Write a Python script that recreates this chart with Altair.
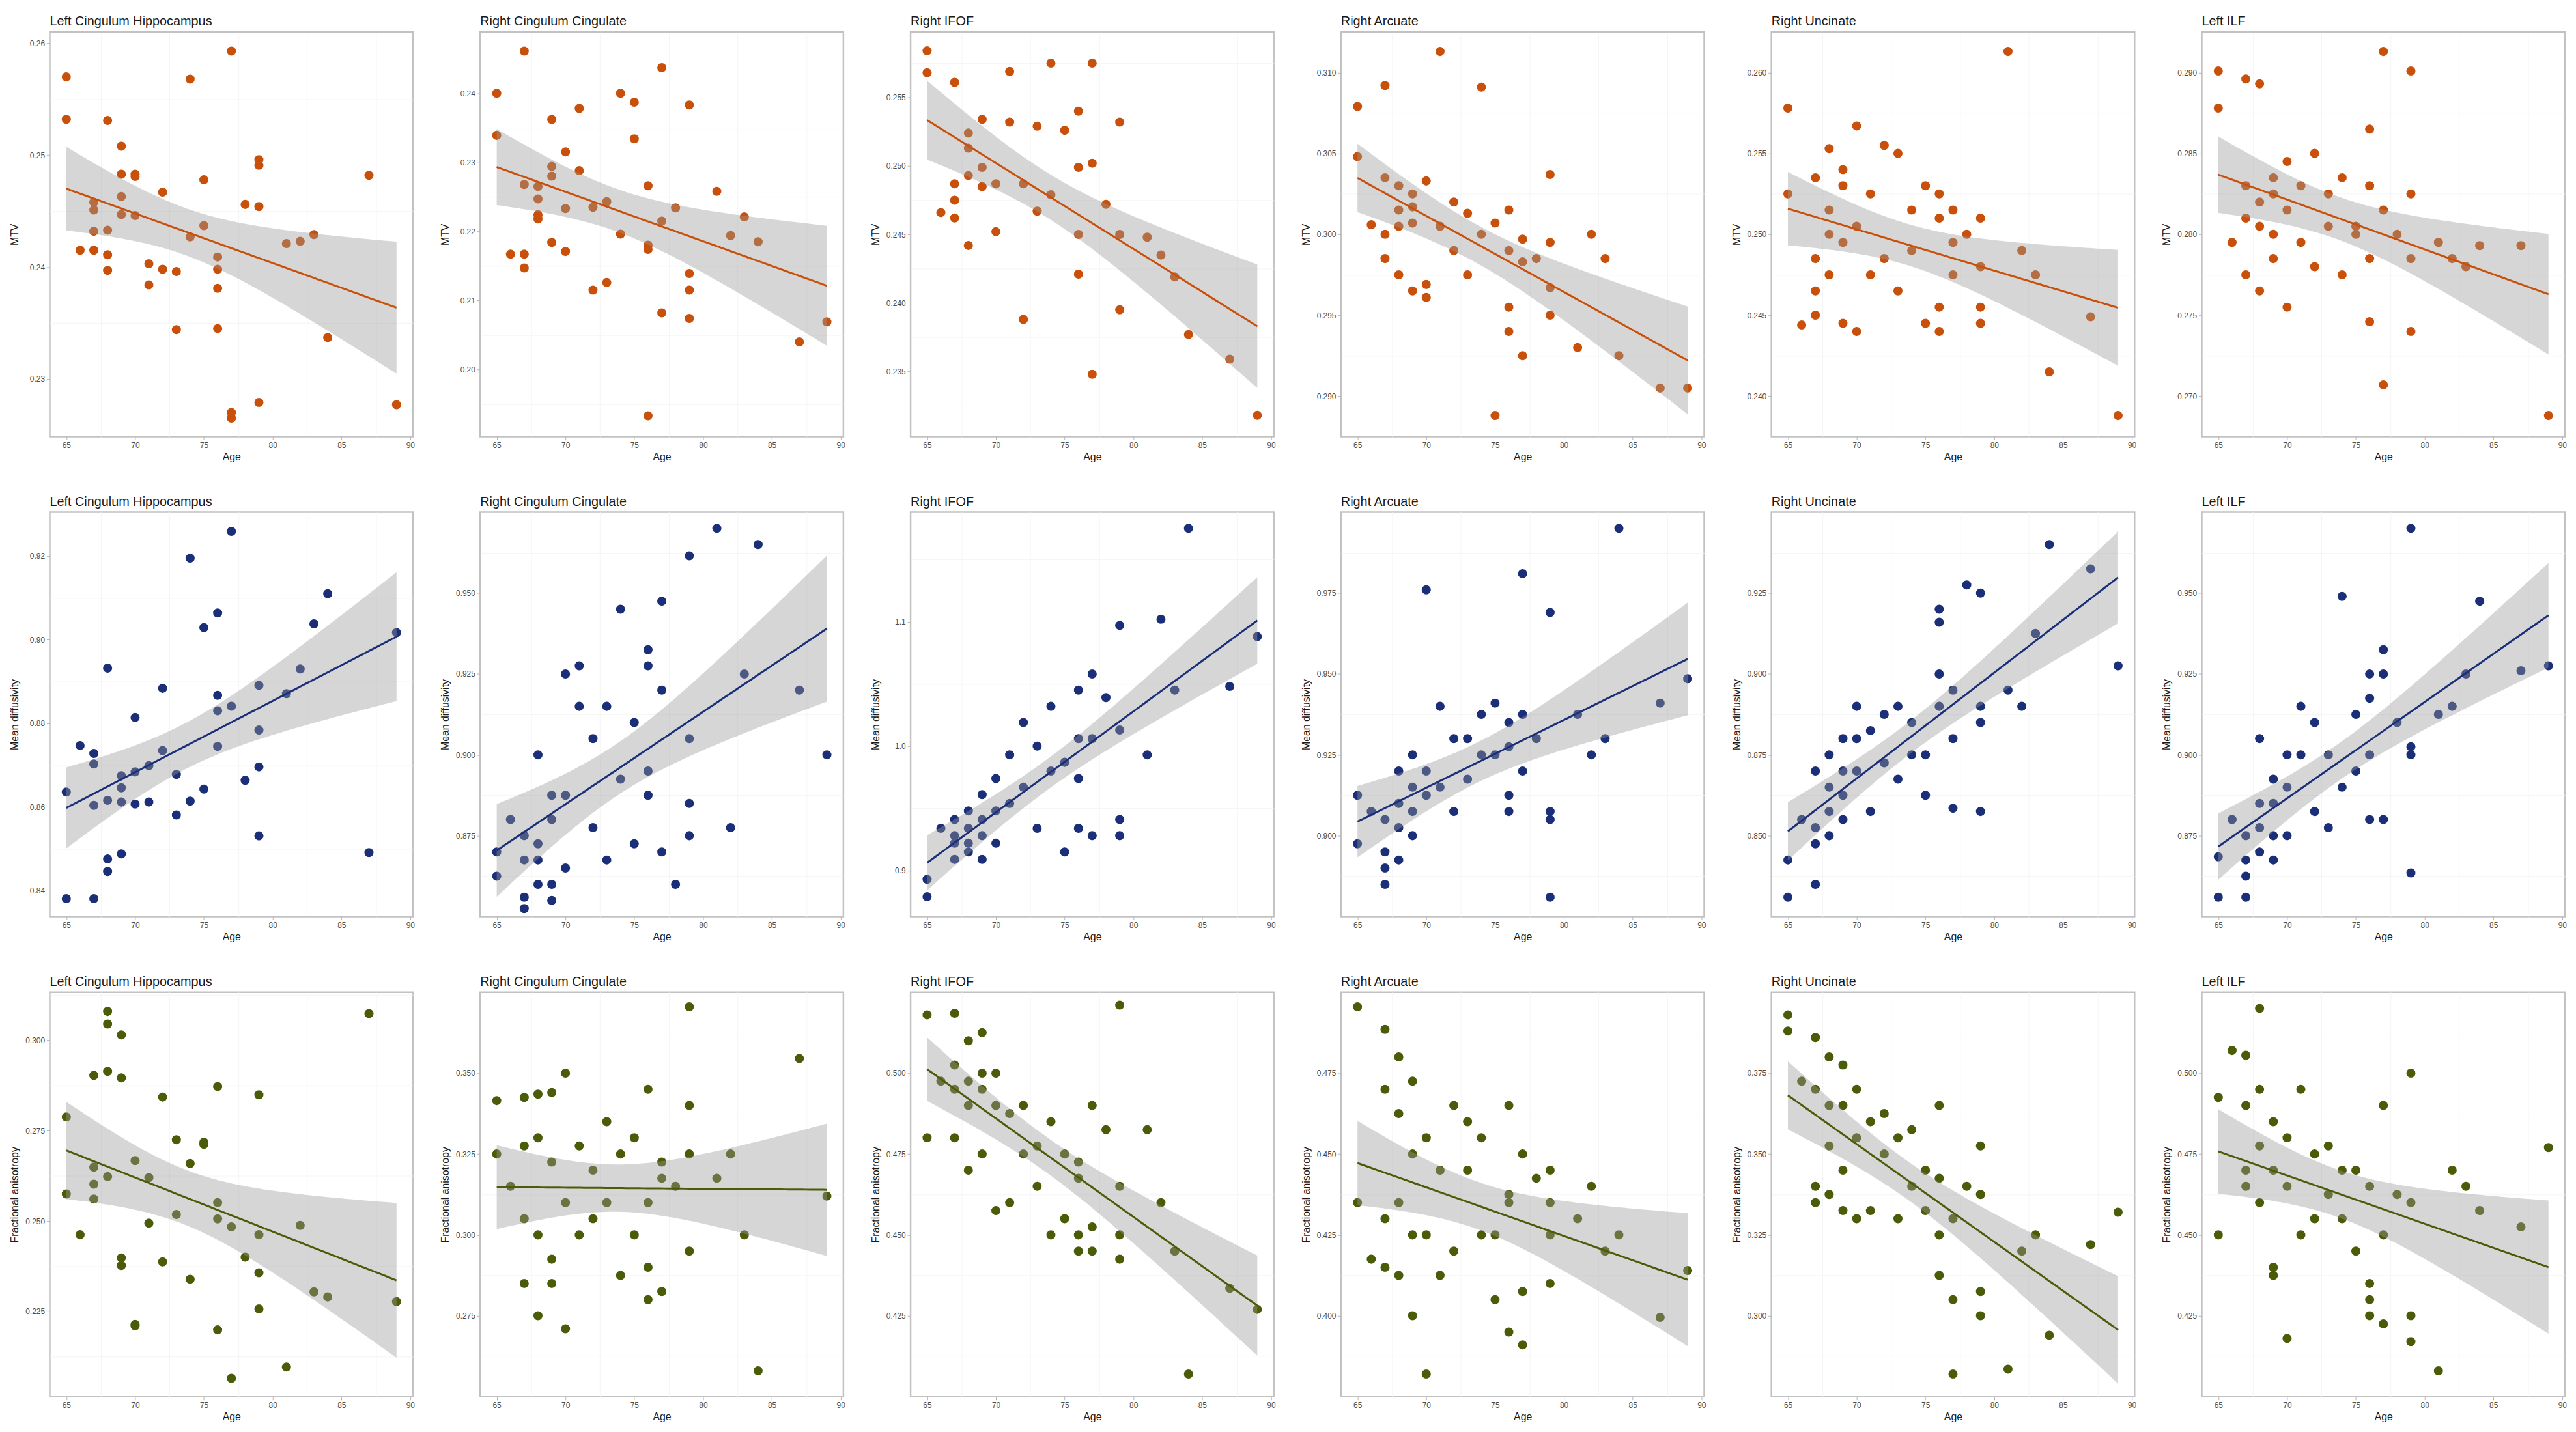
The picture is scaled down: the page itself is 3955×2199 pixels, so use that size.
import altair as alt
import numpy as np
import pandas as pd

# ---------------- data ----------------
AGES = [65, 65, 66, 67, 67, 67, 67, 68, 68, 68, 68, 69, 69, 69, 69, 70, 70, 70, 71, 71, 72, 72,
        73, 73, 74, 74, 75, 75, 76, 76, 76, 76, 77, 77, 77, 78, 79, 79, 79, 79, 81, 82, 83, 84, 87, 89]
AGES_MTV_RIFOF = [65, 65, 66, 67, 67, 67, 67, 68, 68, 68, 68, 69, 69, 69, 70, 70, 71, 71, 72, 72, 73, 73,
                  74, 74, 75, 76, 76, 76, 76, 77, 77, 77, 78, 79, 79, 79, 81, 82, 83, 84, 87, 89]
AGES_45 = [65, 65, 66, 67, 67, 67, 67, 68, 68, 68, 68, 69, 69, 69, 69, 70, 70, 70, 71, 71, 72, 72,
           73, 73, 74, 74, 75, 75, 76, 76, 76, 76, 77, 77, 78, 79, 79, 79, 79, 81, 82, 83, 84, 87, 89]

TRACTS = ["Left Cingulum Hippocampus", "Right Cingulum Cingulate", "Right IFOF",
          "Right Arcuate", "Right Uncinate", "Left ILF"]
MEASURES = ["MTV", "Mean diffusivity", "Fractional anisotropy"]
COLORS = ["#C8500A", "#1A2F78", "#4B5C08"]

MTV_LCH = [0.2570, 0.2532, 0.2415, 0.2458, 0.2451, 0.2432, 0.2415, 0.2531, 0.2433, 0.2411, 0.2397,
           0.2508, 0.2483, 0.2463, 0.2447, 0.2483, 0.2481, 0.2446, 0.2403, 0.2384, 0.2467, 0.2398,
           0.2396, 0.2344, 0.2568, 0.2427, 0.2478, 0.2437, 0.2409, 0.2398, 0.2381, 0.2345,
           0.2593, 0.2270, 0.2265, 0.2456, 0.2496, 0.2491, 0.2454, 0.2279, 0.2421, 0.2423, 0.2429,
           0.2337, 0.2482, 0.2277]
MTV_RCC = [0.2400, 0.2339, 0.2167, 0.2461, 0.2268, 0.2167, 0.2147, 0.2265, 0.2247, 0.2224, 0.2218,
           0.2362, 0.2294, 0.2280, 0.2184, 0.2315, 0.2233, 0.2171, 0.2378, 0.2288, 0.2235, 0.2115,
           0.2243, 0.2126, 0.2400, 0.2196, 0.2387, 0.2334, 0.2266, 0.2180, 0.2174, 0.1933,
           0.2437, 0.2215, 0.2082, 0.2234, 0.2383, 0.2139, 0.2115, 0.2074, 0.2258, 0.2194, 0.2221,
           0.2185, 0.2040, 0.2069]
MTV_RIFOF = [0.2584, 0.2568, 0.2466, 0.2561, 0.2487, 0.2475, 0.2462, 0.2524, 0.2513, 0.2493, 0.2442,
             0.2534, 0.2499, 0.2485, 0.2487, 0.2452, 0.2569, 0.2532, 0.2487, 0.2388, 0.2529, 0.2467,
             0.2575, 0.2479, 0.2526, 0.2540, 0.2499, 0.2450, 0.2421, 0.2575, 0.2502, 0.2348,
             0.2472, 0.2532, 0.2450, 0.2395, 0.2448, 0.2435, 0.2419, 0.2377, 0.2359, 0.2318]
MTV_RARC = [0.3079, 0.3048, 0.3006, 0.3092, 0.3035, 0.3000, 0.2985, 0.3030, 0.3015, 0.3005, 0.2975,
            0.3025, 0.3017, 0.3007, 0.2965, 0.3033, 0.2969, 0.2961, 0.3113, 0.3005, 0.3020, 0.2990,
            0.3013, 0.2975, 0.3091, 0.3000, 0.3007, 0.2888, 0.3015, 0.2990, 0.2955, 0.2940,
            0.2997, 0.2983, 0.2925, 0.2985, 0.3037, 0.2995, 0.2967, 0.2950, 0.2930, 0.3000, 0.2985,
            0.2925, 0.2905, 0.2905]
MTV_RUNC = [0.2578, 0.2525, 0.2444, 0.2535, 0.2485, 0.2465, 0.2450, 0.2553, 0.2515, 0.2500, 0.2475,
            0.2540, 0.2530, 0.2495, 0.2445, 0.2567, 0.2505, 0.2440, 0.2525, 0.2475, 0.2555, 0.2485,
            0.2550, 0.2465, 0.2515, 0.2490, 0.2530, 0.2445, 0.2525, 0.2510, 0.2455, 0.2440,
            0.2515, 0.2495, 0.2475, 0.2500, 0.2510, 0.2480, 0.2455, 0.2445, 0.2613, 0.2490, 0.2475,
            0.2415, 0.2449, 0.2388]
MTV_LILF = [0.2901, 0.2878, 0.2795, 0.2896, 0.2830, 0.2810, 0.2775, 0.2893, 0.2820, 0.2805, 0.2765,
            0.2835, 0.2825, 0.2800, 0.2785, 0.2845, 0.2815, 0.2755, 0.2830, 0.2795, 0.2850, 0.2780,
            0.2825, 0.2805, 0.2835, 0.2775, 0.2805, 0.2800, 0.2865, 0.2830, 0.2785, 0.2746,
            0.2913, 0.2815, 0.2707, 0.2800, 0.2901, 0.2825, 0.2785, 0.2740, 0.2795, 0.2785, 0.2780,
            0.2793, 0.2793, 0.2688]

MD_LCH = [0.8636, 0.8381, 0.8747, 0.8728, 0.8703, 0.8604, 0.8381, 0.8932, 0.8616, 0.8476, 0.8446,
          0.8675, 0.8646, 0.8612, 0.8488, 0.8814, 0.8684, 0.8607, 0.8699, 0.8612, 0.8884, 0.8735,
          0.8678, 0.8581, 0.9195, 0.8614, 0.9029, 0.8643, 0.9064, 0.8867, 0.8830, 0.8745,
          0.9259, 0.8841, 0.8664, 0.8891, 0.8784, 0.8696, 0.8531, 0.8871, 0.8930, 0.9038, 0.9110,
          0.8491, 0.9017]
MD_RCC = [0.870, 0.8625, 0.880, 0.875, 0.8675, 0.856, 0.8525, 0.900, 0.8725, 0.8675, 0.860,
          0.8875, 0.880, 0.860, 0.855, 0.925, 0.8875, 0.865, 0.9275, 0.915, 0.905, 0.8775,
          0.915, 0.8675, 0.945, 0.8925, 0.910, 0.8725, 0.9325, 0.9275, 0.895, 0.8875,
          0.9475, 0.920, 0.870, 0.860, 0.9615, 0.905, 0.885, 0.875, 0.970, 0.8775, 0.925,
          0.965, 0.920, 0.900]
MD_RIFOF = [0.893, 0.879, 0.934, 0.941, 0.928, 0.922, 0.909, 0.948, 0.934, 0.922, 0.915,
            0.961, 0.941, 0.928, 0.909, 0.974, 0.948, 0.922, 0.993, 0.954, 1.019, 0.967,
            1.000, 0.934, 1.032, 0.980, 0.987, 0.915, 1.045, 1.006, 0.974, 0.934,
            1.058, 1.006, 0.928, 1.039, 1.097, 1.013, 0.941, 0.928, 0.993, 1.102, 1.045,
            1.175, 1.048, 1.088]
MD_RARC = [0.9125, 0.8975, 0.9075, 0.905, 0.895, 0.890, 0.885, 0.920, 0.910, 0.9025, 0.8925,
           0.925, 0.915, 0.9075, 0.900, 0.976, 0.920, 0.9125, 0.940, 0.915, 0.930, 0.9075,
           0.930, 0.9175, 0.9375, 0.925, 0.941, 0.925, 0.935, 0.9275, 0.9125, 0.9075,
           0.981, 0.9375, 0.920, 0.930, 0.969, 0.9075, 0.905, 0.881, 0.9375, 0.925, 0.930,
           0.995, 0.941, 0.9485]
MD_RUNC = [0.8425, 0.831, 0.855, 0.870, 0.8525, 0.8475, 0.835, 0.875, 0.865, 0.8575, 0.850,
           0.880, 0.870, 0.8625, 0.855, 0.890, 0.880, 0.870, 0.8825, 0.8575, 0.8875, 0.8725,
           0.890, 0.8675, 0.885, 0.875, 0.875, 0.8625, 0.920, 0.916, 0.900, 0.890,
           0.895, 0.880, 0.8585, 0.9275, 0.925, 0.890, 0.885, 0.8575, 0.895, 0.890, 0.9125,
           0.940, 0.9325, 0.9025]
MD_LILF = [0.8685, 0.856, 0.880, 0.875, 0.8675, 0.8625, 0.856, 0.905, 0.885, 0.8775, 0.870,
           0.8925, 0.885, 0.875, 0.8675, 0.900, 0.890, 0.875, 0.915, 0.900, 0.910, 0.8825,
           0.900, 0.8775, 0.949, 0.890, 0.9125, 0.895, 0.925, 0.9175, 0.900, 0.880,
           0.9325, 0.925, 0.880, 0.910, 0.970, 0.9025, 0.900, 0.8635, 0.9125, 0.915, 0.925,
           0.9475, 0.926, 0.9275]

FA_LCH = [0.2788, 0.2575, 0.2462, 0.2903, 0.2649, 0.2602, 0.2561, 0.3080, 0.3045, 0.2914, 0.2623,
          0.3015, 0.2896, 0.2398, 0.2377, 0.2667, 0.2214, 0.2210, 0.2620, 0.2494, 0.2843, 0.2387,
          0.2725, 0.2518, 0.2659, 0.2339, 0.2718, 0.2712, 0.2872, 0.2551, 0.2506, 0.2199,
          0.2484, 0.2065, 0.2400, 0.2849, 0.2462, 0.2357, 0.2257, 0.2096, 0.2488, 0.2304, 0.2290,
          0.3074, 0.2277]
FA_RCC = [0.3415, 0.325, 0.315, 0.3425, 0.3275, 0.305, 0.285, 0.3435, 0.330, 0.300, 0.275,
          0.344, 0.3225, 0.2925, 0.285, 0.350, 0.310, 0.271, 0.3275, 0.300, 0.320, 0.305,
          0.335, 0.310, 0.325, 0.2875, 0.330, 0.300, 0.345, 0.310, 0.290, 0.280,
          0.3225, 0.3175, 0.2825, 0.315, 0.3705, 0.340, 0.325, 0.295, 0.3175, 0.325, 0.300,
          0.258, 0.3545, 0.312]
FA_RIFOF = [0.518, 0.480, 0.4975, 0.5185, 0.5025, 0.495, 0.480, 0.510, 0.4975, 0.490, 0.470,
            0.5125, 0.500, 0.495, 0.475, 0.500, 0.490, 0.4575, 0.4875, 0.460, 0.490, 0.475,
            0.4775, 0.465, 0.485, 0.450, 0.475, 0.455, 0.4725, 0.4675, 0.450, 0.445,
            0.490, 0.4525, 0.445, 0.4825, 0.521, 0.465, 0.450, 0.4425, 0.4825, 0.460, 0.445,
            0.407, 0.4335, 0.427]
FA_RARC = [0.4955, 0.435, 0.4175, 0.4885, 0.470, 0.430, 0.415, 0.480, 0.4625, 0.435, 0.4125,
           0.4725, 0.450, 0.425, 0.400, 0.455, 0.425, 0.382, 0.445, 0.4125, 0.465, 0.420,
           0.460, 0.445, 0.455, 0.425, 0.425, 0.405, 0.465, 0.4375, 0.435, 0.395,
           0.450, 0.4075, 0.391, 0.4425, 0.445, 0.435, 0.425, 0.410, 0.430, 0.440, 0.420,
           0.425, 0.3995, 0.414]
FA_RUNC = [0.393, 0.388, 0.3725, 0.386, 0.370, 0.340, 0.335, 0.380, 0.365, 0.3525, 0.3375,
           0.3775, 0.365, 0.345, 0.3325, 0.370, 0.355, 0.330, 0.360, 0.3325, 0.3625, 0.350,
           0.355, 0.330, 0.3575, 0.340, 0.345, 0.3325, 0.365, 0.3425, 0.325, 0.3125,
           0.330, 0.305, 0.282, 0.340, 0.3525, 0.3375, 0.3075, 0.300, 0.2835, 0.320, 0.325,
           0.294, 0.322, 0.332]
FA_LILF = [0.4925, 0.450, 0.507, 0.5055, 0.490, 0.470, 0.465, 0.520, 0.495, 0.4775, 0.460,
           0.485, 0.470, 0.440, 0.4375, 0.480, 0.465, 0.418, 0.495, 0.450, 0.475, 0.455,
           0.4775, 0.4625, 0.470, 0.455, 0.470, 0.445, 0.465, 0.435, 0.430, 0.425,
           0.490, 0.450, 0.4225, 0.4625, 0.500, 0.460, 0.425, 0.417, 0.408, 0.470, 0.465,
           0.4575, 0.4525, 0.477]

# axis settings per panel (row-major)
Y_DOMAINS = [
    [0.22485, 0.2610], [0.1903, 0.24885], [0.23025, 0.25977], [0.2875, 0.3125], [0.2375, 0.2625], [0.2675, 0.2925],
    [0.8338, 0.9305], [0.85, 0.975], [0.863, 1.188], [0.875, 1.0], [0.825, 0.95], [0.85, 0.975],
    [0.2014, 0.3133], [0.25, 0.375], [0.40, 0.525], [0.375, 0.50], [0.275, 0.40], [0.40, 0.525],
]
Y_TICKS = [
    [0.23, 0.24, 0.25, 0.26], [0.20, 0.21, 0.22, 0.23, 0.24], [0.235, 0.24, 0.245, 0.25, 0.255],
    [0.29, 0.295, 0.30, 0.305, 0.31], [0.24, 0.245, 0.25, 0.255, 0.26], [0.27, 0.275, 0.28, 0.285, 0.29],
    [0.84, 0.86, 0.88, 0.90, 0.92], [0.875, 0.90, 0.925, 0.95], [0.9, 1.0, 1.1],
    [0.90, 0.925, 0.95, 0.975], [0.85, 0.875, 0.90, 0.925], [0.875, 0.90, 0.925, 0.95],
    [0.225, 0.25, 0.275, 0.30], [0.275, 0.30, 0.325, 0.35], [0.425, 0.45, 0.475, 0.50],
    [0.40, 0.425, 0.45, 0.475], [0.30, 0.325, 0.35, 0.375], [0.425, 0.45, 0.475, 0.50],
]
Y_MINOR = [
    [0.235, 0.245, 0.255], [0.195, 0.205, 0.215, 0.225, 0.235, 0.245], [0.2325, 0.2375, 0.2425, 0.2475, 0.2525, 0.2575],
    [0.2925, 0.2975, 0.3025, 0.3075], [0.2425, 0.2475, 0.2525, 0.2575], [0.2725, 0.2775, 0.2825, 0.2875],
    [0.85, 0.87, 0.89, 0.91], [0.8625, 0.8875, 0.9125, 0.9375, 0.9625], [0.95, 1.05, 1.15],
    [0.8875, 0.9125, 0.9375, 0.9625, 0.9875], [0.8375, 0.8625, 0.8875, 0.9125, 0.9375], [0.8625, 0.8875, 0.9125, 0.9375, 0.9625],
    [0.2125, 0.2375, 0.2625, 0.2875, 0.3125], [0.2625, 0.2875, 0.3125, 0.3375, 0.3625], [0.4125, 0.4375, 0.4625, 0.4875, 0.5125],
    [0.3875, 0.4125, 0.4375, 0.4625, 0.4875], [0.2875, 0.3125, 0.3375, 0.3625, 0.3875], [0.4125, 0.4375, 0.4625, 0.4875, 0.5125],
]
Y_FORMATS = [".2f", ".2f", ".3f", ".3f", ".3f", ".3f",
             ".2f", ".3f", ".1f", ".3f", ".3f", ".3f",
             ".3f", ".3f", ".3f", ".3f", ".3f", ".3f"]
X_TICKS = [65, 70, 75, 80, 85, 90]
X_MINOR = [67.5, 72.5, 77.5, 82.5, 87.5]
X_DOMAIN = [63.8, 90.2]

SERIES = [
    (AGES, MTV_LCH), (AGES, MTV_RCC), (AGES_MTV_RIFOF, MTV_RIFOF), (AGES, MTV_RARC), (AGES, MTV_RUNC), (AGES, MTV_LILF),
    (AGES_45, MD_LCH), (AGES, MD_RCC), (AGES, MD_RIFOF), (AGES, MD_RARC), (AGES, MD_RUNC), (AGES, MD_LILF),
    (AGES_45, FA_LCH), (AGES, FA_RCC), (AGES, FA_RIFOF), (AGES, FA_RARC), (AGES, FA_RUNC), (AGES, FA_LILF),
]

W, H = 562, 626
T_CRIT = 2.015  # t(0.975, ~44 df)


def fit_band(ages, vals):
    x = np.asarray(ages, float)
    y = np.asarray(vals, float)
    n = len(x)
    b, a = np.polyfit(x, y, 1)
    resid = y - (a + b * x)
    s = np.sqrt(np.sum(resid ** 2) / (n - 2))
    xm = x.mean()
    sxx = np.sum((x - xm) ** 2)
    xs = np.linspace(x.min(), x.max(), 80)
    fit = a + b * xs
    se = s * np.sqrt(1.0 / n + (xs - xm) ** 2 / sxx)
    return pd.DataFrame({"Age": xs, "fit": fit, "lo": fit - T_CRIT * se, "hi": fit + T_CRIT * se})


def panel(i):
    row, col = divmod(i, 6)
    ages, vals = SERIES[i]
    color = COLORS[row]
    ylab = MEASURES[row]
    df = pd.DataFrame({"Age": ages, "val": vals})
    fdf = fit_band(ages, vals)
    xscale = alt.Scale(domain=X_DOMAIN, nice=False, zero=False)
    yscale = alt.Scale(domain=Y_DOMAINS[i], nice=False, zero=False)
    xaxis = alt.Axis(values=X_TICKS, format="d", title="Age")
    yaxis = alt.Axis(values=Y_TICKS[i], format=Y_FORMATS[i], title=ylab)
    xenc = alt.X("Age:Q", scale=xscale, axis=xaxis)

    # minor grid (no labels / ticks), drawn on opposite sides with zero extent
    minor = alt.Chart(df).mark_circle(opacity=0).encode(
        x=alt.X("Age:Q", scale=xscale,
                axis=alt.Axis(values=X_MINOR, orient="top", labels=False, ticks=False, domain=False,
                              title=None, grid=True, gridColor="#f3f3f3", gridWidth=0.8,
                              minExtent=0, maxExtent=0)),
        y=alt.Y("val:Q", scale=yscale,
                axis=alt.Axis(values=Y_MINOR[i], orient="right", labels=False, ticks=False, domain=False,
                              title=None, grid=True, gridColor="#f3f3f3", gridWidth=0.8,
                              minExtent=0, maxExtent=0)))
    pts = alt.Chart(df).mark_circle(size=200, opacity=1, color=color).encode(
        x=xenc, y=alt.Y("val:Q", scale=yscale, axis=yaxis))
    band = alt.Chart(fdf).mark_area(color="#999999", opacity=0.4, clip=True).encode(
        x=xenc, y=alt.Y("lo:Q", scale=yscale, axis=yaxis), y2="hi:Q")
    line = alt.Chart(fdf).mark_line(color=color, strokeWidth=3, clip=True).encode(
        x=xenc, y=alt.Y("fit:Q", scale=yscale, axis=yaxis))
    main = alt.layer(pts, band, line)
    return alt.layer(minor, main).resolve_axis(x="independent", y="independent").properties(
        width=W, height=H,
        title=alt.TitleParams(TRACTS[col], anchor="start", frame="group", fontSize=20, offset=6,
                              fontWeight="normal", color="#1a1a1a"))


rows = [alt.hconcat(*[panel(r * 6 + c) for c in range(6)], spacing=36) for r in range(3)]
chart = alt.vconcat(*rows, spacing=48).configure(
    font="Liberation Sans"
).configure_view(
    stroke="#c2c2c2", strokeWidth=2.5
).configure_axis(
    grid=True, gridColor="#e8e8e8", gridWidth=1, domain=False,
    tickColor="#b5b5b5", tickSize=5, labelColor="#4d4d4d", labelFontSize=12,
    titleFontSize=16, titleFontWeight="normal", titleColor="#1a1a1a", labelPadding=3
).configure_axisLeft(
    minExtent=40, maxExtent=40, titlePadding=6
).configure_axisBottom(
    titlePadding=4
)

chart.save("out.html", embed_options={"renderer": "svg", "actions": False})
